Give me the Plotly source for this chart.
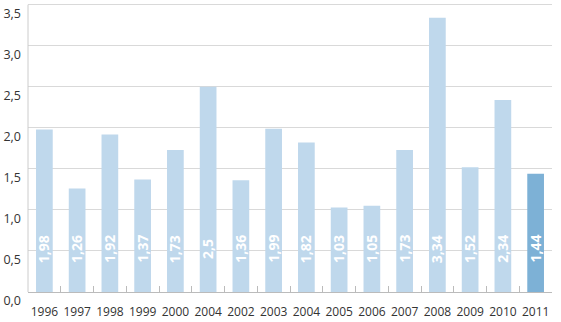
import plotly.graph_objects as go

years = ["1996", "1997", "1998", "1999", "2000", "2004", "2002", "2003",
         "2004", "2005", "2006", "2007", "2008", "2009", "2010", "2011"]
values = [1.98, 1.26, 1.92, 1.37, 1.73, 2.5, 1.36, 1.99,
          1.82, 1.03, 1.05, 1.73, 3.34, 1.52, 2.34, 1.44]
labels = ["1,98", "1,26", "1,92", "1,37", "1,73", "2,5", "1,36", "1,99",
          "1,82", "1,03", "1,05", "1,73", "3,34", "1,52", "2,34", "1,44"]
y_ticks = [0, 0.5, 1.0, 1.5, 2.0, 2.5, 3.0, 3.5]

light = "#BFD8EC"
dark = "#7DB1D6"
colors = [light] * (len(values) - 1) + [dark]
xs = [str(i) for i in range(len(values))]

fig = go.Figure()
fig.add_trace(go.Bar(x=xs, y=values, marker=dict(color=colors, line=dict(width=0)),
                     hoverinfo="skip"))

for x, lab in zip(xs, labels):
    fig.add_annotation(x=x, y=0.525, text="<b>" + lab + "</b>", textangle=-90,
                       showarrow=False, font=dict(family="Open Sans", size=14, color="white"))

fig.update_layout(
    width=561, height=322,
    margin=dict(l=28, r=9, t=2, b=30, autoexpand=False),
    paper_bgcolor="white", plot_bgcolor="white",
    bargap=0.49, showlegend=False,
    separators=", ",
    font=dict(family="Open Sans", color="#333333", size=12),
)
fig.update_xaxes(type="category", tickmode="array", tickvals=xs, ticktext=years,
                 tickson="boundaries", ticks="inside", ticklen=6, tickcolor="#BBBBBB",
                 showline=True, linecolor="#BBBBBB", linewidth=1, tickangle=0,
                 ticklabelstandoff=9, automargin=False,
                 showgrid=False, tickfont=dict(size=12, color="#333333"))
fig.update_yaxes(range=[0, 3.533], tickvals=y_ticks, tickformat=".1f",
                 showgrid=True, gridcolor="#D9D9D9", gridwidth=1, automargin=False,
                 showline=False, zeroline=False, ticks="", ticklabelstandoff=6,
                 ticklabelposition="outside bottom", ticklabeloverflow="allow",
                 tickfont=dict(size=12.5, color="#333333"))
fig.add_shape(type="line", xref="paper", yref="y", x0=0, x1=0, y0=0, y1=y_ticks[-1],
              line=dict(color="#CCCCCC", width=1))

fig.write_html("out.html")
